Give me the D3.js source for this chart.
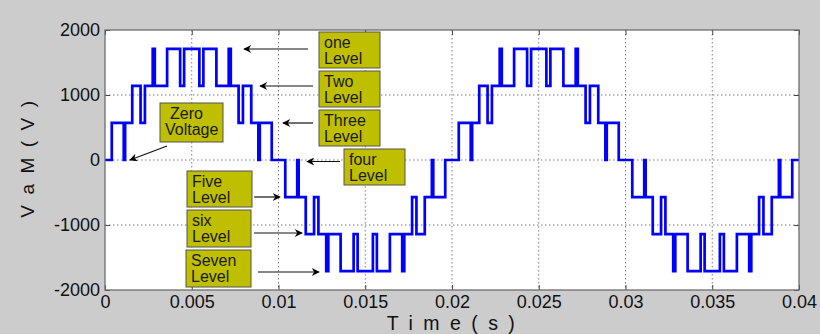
<!DOCTYPE html>
<html>
<head>
<meta charset="utf-8">
<script src="https://cdn.jsdelivr.net/npm/d3@7/dist/d3.min.js"></script>
<style>
  html, body { margin: 0; padding: 0; background: #cccccc; }
  svg { display: block; font-family: Arial, "Liberation Sans", sans-serif; }
</style>
</head>
<body>
<svg id="chart" width="820" height="334"></svg>
<script>
// ---- data ----
const timeTicks = [0, 0.005, 0.01, 0.015, 0.02, 0.025, 0.03, 0.035, 0.04];
const timeTickLabels = ["0", "0.005", "0.01", "0.015", "0.02", "0.025", "0.03", "0.035", "0.04"];
const voltTicks = [-2000, -1000, 0, 1000, 2000];
const voltTickLabels = ["-2000", "-1000", "0", "1000", "2000"];

// switching instants (s) and the output voltage (V) held from each instant on
const switchTimes = [
  0, 0.00039, 0.00108, 0.00116, 0.00157, 0.00205, 0.00230, 0.00275, 0.00287, 0.00358, 0.00433, 0.00456,
  0.00544, 0.00567, 0.00642, 0.00713, 0.00725, 0.00770, 0.00795, 0.00843, 0.00884, 0.00892, 0.00961,
  0.01039, 0.01108, 0.01116, 0.01157, 0.01205, 0.01230, 0.01275, 0.01287, 0.01358, 0.01433, 0.01456,
  0.01544, 0.01567, 0.01642, 0.01713, 0.01725, 0.01770, 0.01795, 0.01843, 0.01884, 0.01892, 0.01961,
  0.02039, 0.02108, 0.02116, 0.02157, 0.02205, 0.02230, 0.02275, 0.02287, 0.02358, 0.02433, 0.02456,
  0.02544, 0.02567, 0.02642, 0.02713, 0.02725, 0.02770, 0.02795, 0.02843, 0.02884, 0.02892, 0.02961,
  0.03039, 0.03108, 0.03116, 0.03157, 0.03205, 0.03230, 0.03275, 0.03287, 0.03358, 0.03433, 0.03456,
  0.03544, 0.03567, 0.03642, 0.03713, 0.03725, 0.03770, 0.03795, 0.03843, 0.03884, 0.03892, 0.03961,
  0.04
];
const switchLevels = [
  0, 570, 0, 570, 1140, 570, 1140, 1710, 1140, 1710, 1140, 1710,
  1140, 1710, 1140, 1710, 1140, 570, 1140, 570, 0, 570, 0,
  -570, 0, -570, -1140, -570, -1140, -1710, -1140, -1710, -1140, -1710,
  -1140, -1710, -1140, -1710, -1140, -570, -1140, -570, 0, -570, 0,
  570, 0, 570, 1140, 570, 1140, 1710, 1140, 1710, 1140, 1710,
  1140, 1710, 1140, 1710, 1140, 570, 1140, 570, 0, 570, 0,
  -570, 0, -570, -1140, -570, -1140, -1710, -1140, -1710, -1140, -1710,
  -1140, -1710, -1140, -1710, -1140, -570, -1140, -570, 0, -570, 0,
  0
];

const annotationLines = [
  ["one", "Level"], ["Two", "Level"], ["Three", "Level"], ["four", "Level"],
  ["Zero", "Voltage"], ["Five", "Level"], ["six", "Level"], ["Seven", "Level"]
];

// ---- layout (pixels) ----
const plot = { left: 105, right: 799, top: 30, bottom: 290 };
const annLayout = [
  { box: [319, 32, 61, 36], tx: [5, 5], from: [308, 49], to: [244, 49] },
  { box: [319, 71, 61, 36], tx: [5, 5], from: [313, 86], to: [260, 86] },
  { box: [319, 110, 61, 36], tx: [5, 5], from: [313, 123], to: [283, 123] },
  { box: [344, 149, 61, 36], tx: [5, 5], from: [340, 161.5], to: [307, 161.5] },
  { box: [160, 103, 63, 39], tx: [10, 5], from: [167, 146], to: [130, 160] },
  { box: [187, 171, 65, 36], tx: [5, 5], from: [254, 197], to: [280, 197] },
  { box: [187, 210, 64, 37], tx: [5, 5], from: [254, 233], to: [302, 233] },
  { box: [186, 250, 65, 37], tx: [5, 5], from: [258, 272], to: [319, 272] }
];

const svg = d3.select("#chart");
const x = d3.scaleLinear().domain([0, 0.04]).range([plot.left, plot.right]);
const y = d3.scaleLinear().domain([-2000, 2000]).range([plot.bottom, plot.top]);

const defs = svg.append("defs");
defs.append("marker").attr("id", "arrow").attr("viewBox", "0 0 10 10")
  .attr("refX", 9).attr("refY", 5).attr("markerWidth", 12).attr("markerHeight", 8)
  .attr("markerUnits", "userSpaceOnUse").attr("orient", "auto")
  .append("path").attr("d", "M0,0 L10,5 L0,10 L3,5 Z").attr("fill", "#000");

// plot background
svg.append("rect").attr("x", plot.left).attr("y", plot.top)
  .attr("width", plot.right - plot.left).attr("height", plot.bottom - plot.top)
  .attr("fill", "#ffffff");

// grid
const grid = svg.append("g");
grid.selectAll("line.gx").data(timeTicks.slice(1, -1)).join("line")
  .attr("x1", d => x(d)).attr("x2", d => x(d))
  .attr("y1", plot.top).attr("y2", plot.bottom)
  .attr("stroke", "#707070").attr("stroke-width", 0.9).attr("stroke-dasharray", "1.5,2.5");
grid.selectAll("line.gy").data(voltTicks.slice(1, -1)).join("line")
  .attr("y1", d => y(d)).attr("y2", d => y(d))
  .attr("x1", plot.left).attr("x2", plot.right)
  .attr("stroke", "#707070").attr("stroke-width", 0.9).attr("stroke-dasharray", "1.5,2.5");

// axes (ticks inward on all sides)
const tickStyle = g => {
  g.select(".domain").remove();
  g.selectAll(".tick line").attr("stroke", "#444").attr("stroke-width", 1);
  g.selectAll(".tick text").attr("fill", "#111").attr("font-size", "18px")
    .attr("font-family", "Arial, 'Liberation Sans', sans-serif");
};
svg.append("g").attr("transform", `translate(0,${plot.bottom})`)
  .call(d3.axisBottom(x).tickValues(timeTicks).tickFormat((d, i) => timeTickLabels[i]).tickSizeInner(-5).tickPadding(5))
  .call(tickStyle);
svg.append("g").attr("transform", `translate(0,${plot.top})`)
  .call(d3.axisTop(x).tickValues(timeTicks).tickFormat("").tickSizeInner(-5))
  .call(tickStyle);
svg.append("g").attr("transform", `translate(${plot.left},0)`)
  .call(d3.axisLeft(y).tickValues(voltTicks).tickFormat((d, i) => voltTickLabels[i]).tickSizeInner(-5).tickPadding(5))
  .call(tickStyle);
svg.append("g").attr("transform", `translate(${plot.right},0)`)
  .call(d3.axisRight(y).tickValues(voltTicks).tickFormat("").tickSizeInner(-5))
  .call(tickStyle);

// waveform
const pts = switchTimes.map((t, i) => [t, switchLevels[i]]);
const line = d3.line().x(d => x(d[0])).y(d => y(d[1])).curve(d3.curveStepAfter);
svg.append("path").datum(pts).attr("d", line)
  .attr("fill", "none").attr("stroke", "#0000ff").attr("stroke-width", 2.7)
  .attr("stroke-linejoin", "miter");

// border
svg.append("rect").attr("x", plot.left).attr("y", plot.top)
  .attr("width", plot.right - plot.left).attr("height", plot.bottom - plot.top)
  .attr("fill", "none").attr("stroke", "#6e6e6e").attr("stroke-width", 1.3);

// annotations
const ann = svg.append("g");
annLayout.forEach((a, i) => {
  ann.append("line").attr("x1", a.from[0]).attr("y1", a.from[1])
    .attr("x2", a.to[0]).attr("y2", a.to[1])
    .attr("stroke", "#111").attr("stroke-width", 1.2).attr("marker-end", "url(#arrow)");
  const [bx, by, bw, bh] = a.box;
  ann.append("rect").attr("x", bx).attr("y", by).attr("width", bw).attr("height", bh)
    .attr("fill", "#bfbf00").attr("stroke", "#555").attr("stroke-width", 1);
  annotationLines[i].forEach((txt, j) => {
    ann.append("text").attr("x", bx + a.tx[j]).attr("y", by + 15.5 + j * 16.5)
      .attr("font-size", "16px").attr("fill", "#1a1a1a").text(txt);
  });
});

// axis titles
svg.append("text").attr("transform", "translate(34,158) rotate(-90)")
  .attr("text-anchor", "middle").attr("font-size", "19px").attr("letter-spacing", "2.6px")
  .attr("fill", "#111").text("V a M ( V )");
svg.append("text").attr("x", 452).attr("y", 330)
  .attr("text-anchor", "middle").attr("font-size", "19.5px").attr("letter-spacing", "2.5px")
  .attr("fill", "#111").text("T i m e ( s )");
</script>
</body>
</html>
